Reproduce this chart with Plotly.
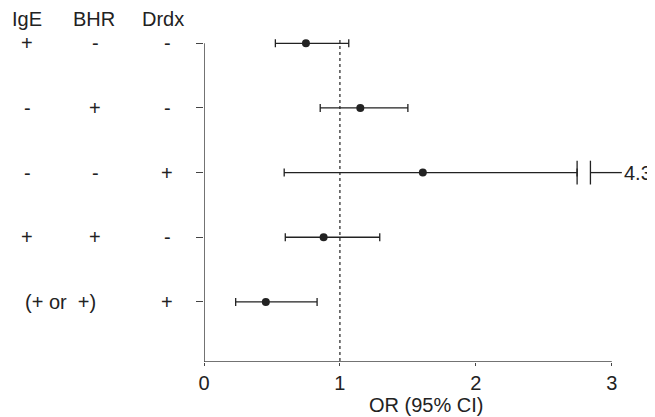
import plotly.graph_objects as go

# ---- data ----
rows = [1, 2, 3, 4, 5]
odds_ratio = [0.75, 1.15, 1.61, 0.88, 0.455]
ci_low = [0.525, 0.855, 0.59, 0.598, 0.233]
ci_high = [1.065, 1.50, 4.3, 1.293, 0.832]
ige_labels = ["+", "-", "-", "+", "(+ or  +)"]
bhr_labels = ["-", "+", "-", "+", ""]
drdx_labels = ["-", "-", "+", "-", "+"]
headers = ["IgE", "BHR", "Drdx"]
x_ticks = [0, 1, 2, 3]
x_title = "OR (95% CI)"
reference_or = 1

# axis-break display for truncated interval
break_at = 2.745
resume_at = 2.843
break_end = 3.074

# ---- styling ----
FONT = "Liberation Sans, Arial, sans-serif"
FS = 20
INK = "#222222"
AXIS = "#444444"
Y_BOTTOM = 5.93
Y_TOP = 0.5
# paper x positions of the left-hand label columns
col_x = {"IgE": -0.421, "BHR": -0.2595, "Drdx": -0.088}
head_x = {"IgE": -0.421, "BHR": -0.262, "Drdx": -0.0976}
row5_combo_x = -0.342
header_y = 0.625

fig = go.Figure()

hi_disp = [min(h, break_at) for h in ci_high]
fig.add_trace(go.Scatter(
    x=odds_ratio, y=rows, mode="markers",
    marker=dict(color=INK, size=8),
    error_x=dict(type="data", symmetric=False,
                 array=[h - o for h, o in zip(hi_disp, odds_ratio)],
                 arrayminus=[o - l for o, l in zip(odds_ratio, ci_low)],
                 color=INK, thickness=1.3, width=4),
    showlegend=False, hoverinfo="skip", cliponaxis=False,
))

# truncated interval: break marks and continuation
trunc_rows = [r for r, h in zip(rows, ci_high) if h > break_at]
for r in trunc_rows:
    fig.add_trace(go.Scatter(
        x=[break_at, resume_at], y=[r, r], mode="markers",
        marker=dict(symbol="line-ns", size=17, line=dict(color=INK, width=1.3)),
        showlegend=False, hoverinfo="skip", cliponaxis=False,
    ))
    fig.add_trace(go.Scatter(
        x=[resume_at, break_end], y=[r, r], mode="lines",
        line=dict(color=INK, width=1.3),
        showlegend=False, hoverinfo="skip",
    ))
    h = ci_high[rows.index(r)]
    fig.add_annotation(x=break_end, y=r, xref="x", yref="y", text=f"{h:g}",
                       showarrow=False, xanchor="left", yanchor="middle",
                       font=dict(family=FONT, size=FS, color=INK))

# reference line
fig.add_shape(type="line", x0=reference_or, x1=reference_or, y0=0.95, y1=Y_BOTTOM,
              xref="x", yref="y", line=dict(color=INK, width=1.2, dash="dot"))
# axis lines
fig.add_shape(type="line", x0=0, x1=0, y0=rows[0], y1=Y_BOTTOM, xref="x", yref="y",
              line=dict(color=AXIS, width=1.5))
fig.add_shape(type="line", x0=0, x1=x_ticks[-1], y0=Y_BOTTOM, y1=Y_BOTTOM, xref="x", yref="y",
              line=dict(color=AXIS, width=1.5))

# row labels
def label(x, y, t):
    fig.add_annotation(x=x, y=y, xref="paper", yref="y", text=t, showarrow=False,
                       xanchor="center", yanchor="middle",
                       font=dict(family=FONT, size=FS, color=INK))

for r, a, b, d in zip(rows, ige_labels, bhr_labels, drdx_labels):
    if b == "":
        label(row5_combo_x, r, a)
    else:
        label(col_x["IgE"], r, a)
        label(col_x["BHR"], r, b)
    label(col_x["Drdx"], r, d)

for h in headers:
    label(head_x[h], header_y, h)

fig.add_annotation(x=0.529, y=-0.1225, xref="paper", yref="paper", text=x_title,
                   showarrow=False, xanchor="center", yanchor="middle",
                   font=dict(family=FONT, size=FS, color=INK))

fig.update_xaxes(range=[0, 3.09], tickvals=x_ticks, ticktext=[str(t) for t in x_ticks],
                 showgrid=False, zeroline=False, showline=False,
                 ticks="outside", ticklen=3, tickcolor=AXIS, tickwidth=1.3,
                 tickfont=dict(family=FONT, size=FS, color=INK))
fig.update_yaxes(range=[Y_BOTTOM, Y_TOP], tickvals=rows, showticklabels=False,
                 showgrid=False, zeroline=False, showline=False,
                 ticks="outside", ticklen=7, tickcolor=AXIS, tickwidth=1.3)

fig.update_layout(
    width=647, height=409,
    margin=dict(l=196, r=31, t=3, b=55),
    plot_bgcolor="white", paper_bgcolor="white",
    font=dict(family=FONT, size=FS, color=INK),
)

fig.write_html("out.html")
